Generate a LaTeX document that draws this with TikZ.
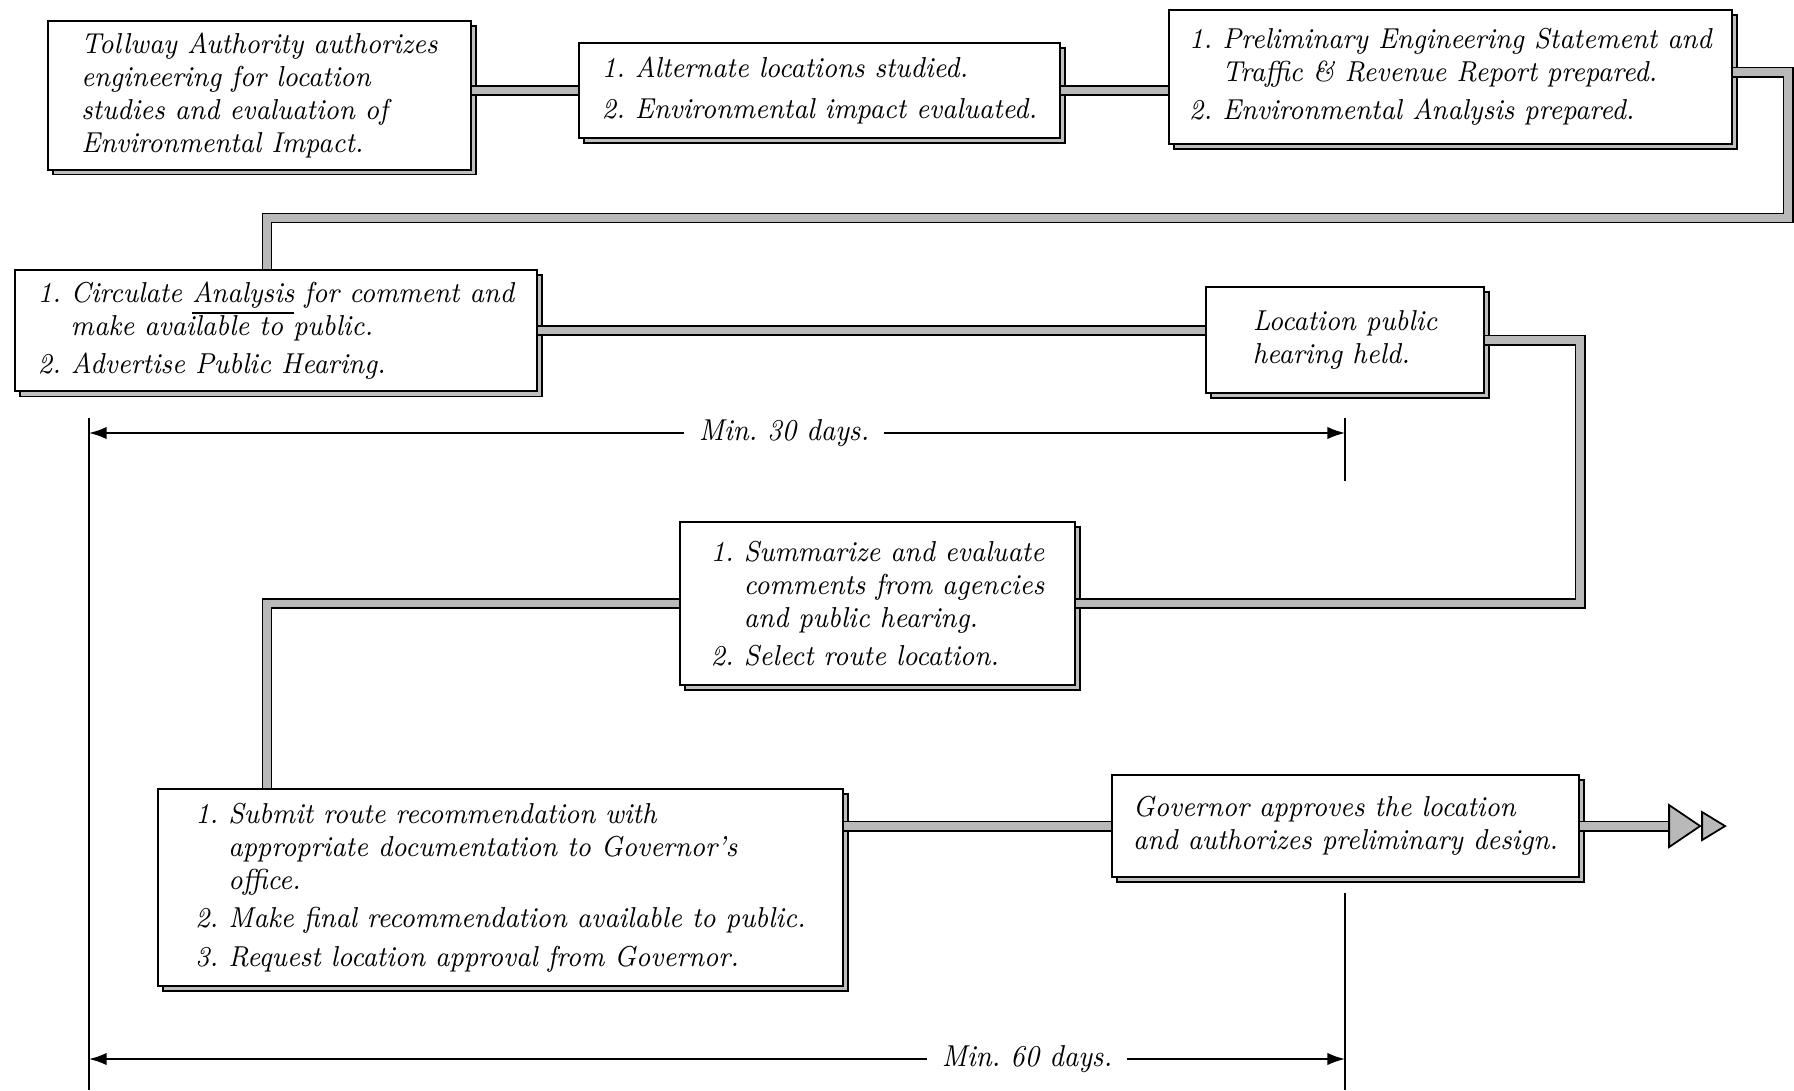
\documentclass[tikz,border=0pt]{standalone}
\usepackage{fontspec}
\setmainfont{Latin Modern Roman}[FakeStretch=0.91]
\usetikzlibrary{shadows,arrows.meta}
\frenchspacing
\begin{document}
\begin{tikzpicture}[x=0.1mm,y=-0.1mm,>={Latex[length=5pt,width=3.5pt]},
  stage/.style={draw,fill=white,line width=.6pt,anchor=north west,align=left,
    font=\fontsize{8.2}{9.4}\selectfont\itshape,
    copy shadow={shadow xshift=1.4pt,shadow yshift=-1.4pt,fill=gray!50,draw=black,line width=.4pt}},
  pipe/.style={draw=black,line width=.5pt,double=gray!55,double distance=2.1pt},
  headfill/.style={draw=black,line width=.5pt,fill=gray!55,line join=miter},
  dimline/.style={line width=.5pt},
  daylabel/.style={font=\fontsize{8.6}{9.4}\selectfont\itshape,inner sep=4pt}]
\useasboundingbox (0,0) rectangle (1794,1090);

\node[stage,minimum width=42.3mm,minimum height=14.7mm] (auth) at (47,20) {Tollway Authority authorizes\\engineering for location\\studies and evaluation of\\Environmental Impact.};
\node[stage,minimum width=48.1mm,minimum height=9.5mm] (alt) at (578,42) {1. Alternate locations studied.\\[2.5pt]2. Environmental impact evaluated.};
\node[stage,minimum width=56.3mm,minimum height=13.4mm] (prelim) at (1168,9) {1. Preliminary Engineering Statement and\\\phantom{1. }Traffic \& Revenue Report prepared.\\[1.5pt]2. Environmental Analysis prepared.};
\node[stage,minimum width=52.2mm,minimum height=11.7mm] (circ) at (14,269) {1. Circulate \underline{Analysis} for comment and\\\phantom{1. }make available to public.\\[1.5pt]2. Advertise Public Hearing.};
\node[stage,minimum width=27.8mm,minimum height=10.6mm] (hear) at (1205,286) {Location public\\hearing held.};
\node[stage,minimum width=39.5mm,minimum height=16.3mm] (summ) at (679,521) {1. Summarize and evaluate\\\phantom{1. }comments from agencies\\\phantom{1. }and public hearing.\\[1.5pt]2. Select route location.};
\node[stage,minimum width=68.5mm,minimum height=19.7mm] (sub) at (157,788) {1. Submit route recommendation with\\\phantom{1. }appropriate documentation to Governor's\\\phantom{1. }office.\\[1.5pt]2. Make final recommendation available to public.\\[1.5pt]3. Request location approval from Governor.};
\node[stage,minimum width=46.7mm,minimum height=10.2mm] (gov) at (1111,774) {Governor approves the location\\and authorizes preliminary design.};

\coordinate (drop) at (267,218);
\draw[pipe] (auth.east |- alt.west) -- (alt.west);
\draw[pipe] (alt.east) -- (alt.east -| prelim.west);
\draw[pipe] ([yshift=.5mm]prelim.east) -- ++(55,0) |- (drop) -- (drop |- circ.north);
\draw[pipe] (circ.east) -- (circ.east -| hear.west);
\draw[pipe] (hear.east) -- ++(95,0) |- (summ.east);
\draw[pipe] (summ.west) -| (drop |- sub.north);
\draw[pipe] (gov.west -| sub.east) -- (gov.west);

\coordinate (next) at ([xshift=8.9mm]gov.east);
\draw[pipe] (gov.east) -- (next);
\filldraw[headfill] (next) ++(0,-21) -- ++(31,21) -- ++(-31,21) -- cycle;
\filldraw[headfill] (next) ++(33,-14) -- ++(23,14) -- ++(-23,14) -- cycle;

\coordinate (a30) at (89,433);
\coordinate (b30) at (1345,433);
\coordinate (a60) at (89,1059);
\coordinate (b60) at (1345,1059);
\draw[dimline] (89,418) -- (89,1090);
\draw[dimline] (1345,418) -- (1345,481);
\draw[dimline] (1345,893) -- (1345,1090);
\node[daylabel] (d30) at (784,433) {Min. 30 days.};
\node[daylabel] (d60) at (1027,1059) {Min. 60 days.};
\draw[dimline,<-] (a30) -- (d30);
\draw[dimline,->] (d30) -- (b30);
\draw[dimline,<-] (a60) -- (d60);
\draw[dimline,->] (d60) -- (b60);

\end{tikzpicture}
\end{document}
